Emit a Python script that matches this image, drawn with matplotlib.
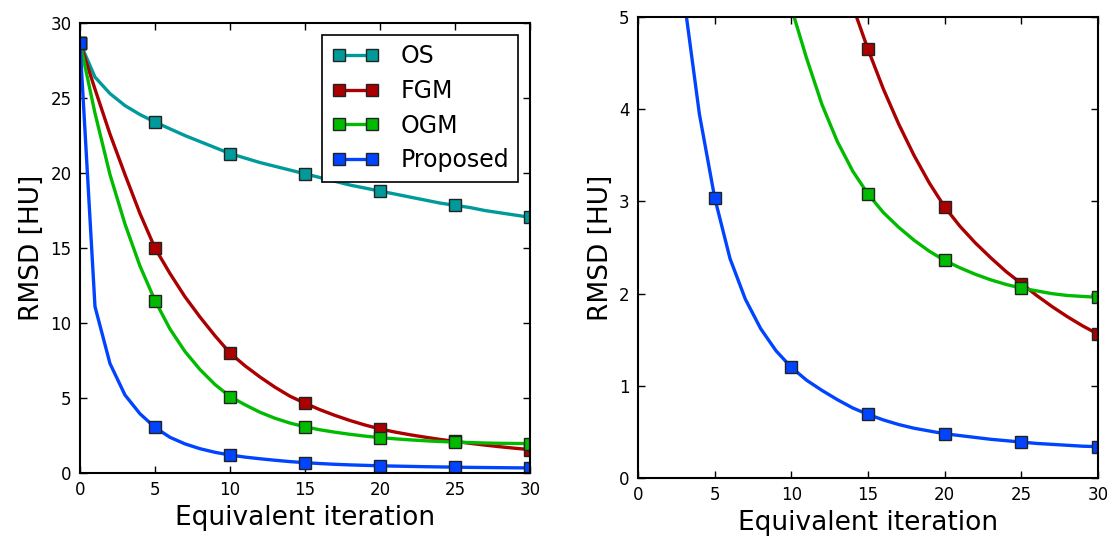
import matplotlib
matplotlib.use("Agg")
import matplotlib.pyplot as plt
import numpy as np

iterations = list(range(31))

os_rmsd = [28.7, 26.4, 25.3, 24.5, 23.9, 23.4, 22.95, 22.5, 22.1, 21.7, 21.3,
           21.0, 20.7, 20.45, 20.2, 19.95, 19.7, 19.45, 19.2, 19.0, 18.8,
           18.6, 18.4, 18.2, 18.0, 17.85, 17.7, 17.5, 17.35, 17.2, 17.05]
fgm_rmsd = [28.7, 25.6, 22.6, 19.9, 17.3, 15.0, 13.3, 11.75, 10.4, 9.15, 8.0,
            7.15, 6.4, 5.72, 5.12, 4.65, 4.22, 3.84, 3.5, 3.2, 2.94,
            2.73, 2.55, 2.39, 2.24, 2.11, 1.98, 1.86, 1.75, 1.65, 1.56]
ogm_rmsd = [28.7, 24.0, 19.9, 16.6, 13.8, 11.5, 9.6, 8.1, 6.9, 5.9, 5.1,
            4.55, 4.05, 3.65, 3.33, 3.08, 2.88, 2.72, 2.58, 2.46, 2.36,
            2.28, 2.21, 2.15, 2.1, 2.06, 2.03, 2.0, 1.98, 1.97, 1.96]
proposed_rmsd = [28.7, 11.1, 7.3, 5.2, 3.95, 3.04, 2.38, 1.94, 1.62, 1.38, 1.2,
                 1.06, 0.95, 0.85, 0.76, 0.69, 0.63, 0.58, 0.54, 0.51, 0.48,
                 0.46, 0.44, 0.42, 0.405, 0.39, 0.375, 0.365, 0.355, 0.345, 0.34]

series_names = ["OS", "FGM", "OGM", "Proposed"]
series_colors = ["#009a9a", "#aa0000", "#00bb00", "#0044ff"]
series_values = [os_rmsd, fgm_rmsd, ogm_rmsd, proposed_rmsd]

plt.rcParams['font.family'] = ['DejaVu Sans']

fig = plt.figure(figsize=(11.17, 5.5), dpi=100)
ax1 = fig.add_axes([0.0716, 0.14, 0.4029, 0.818])
ax2 = fig.add_axes([0.5712, 0.1309, 0.4118, 0.838])

for ax, ymax in [(ax1, 30), (ax2, 5)]:
    for name, col, vals in zip(series_names, series_colors, series_values):
        ax.plot(iterations, vals, color=col, lw=2.4, marker='s', markersize=9,
                markevery=5, markerfacecolor=col, markeredgecolor='#222222',
                markeredgewidth=1.0, label=name)
    ax.set_xlim(0, 30)
    ax.set_ylim(0, ymax)
    ax.set_xticks([0, 5, 10, 15, 20, 25, 30])
    ax.tick_params(direction='in', top=True, right=True, length=5, width=1,
                   labelsize=12, pad=6)
    for sp in ax.spines.values():
        sp.set_linewidth(1.5)
    ax.set_xlabel("Equivalent iteration", fontsize=19)
    ax.set_ylabel("RMSD [HU]", fontsize=19)

ax2.set_yticks([0, 1, 2, 3, 4, 5])

leg = ax1.legend(loc='upper right', fontsize=17, numpoints=2, handlelength=2.0,
                 fancybox=False, framealpha=1, edgecolor='black',
                 borderaxespad=0.5, labelspacing=0.45, handletextpad=0.9)
leg.get_frame().set_linewidth(1.2)

fig.savefig("out.png", dpi=100)
